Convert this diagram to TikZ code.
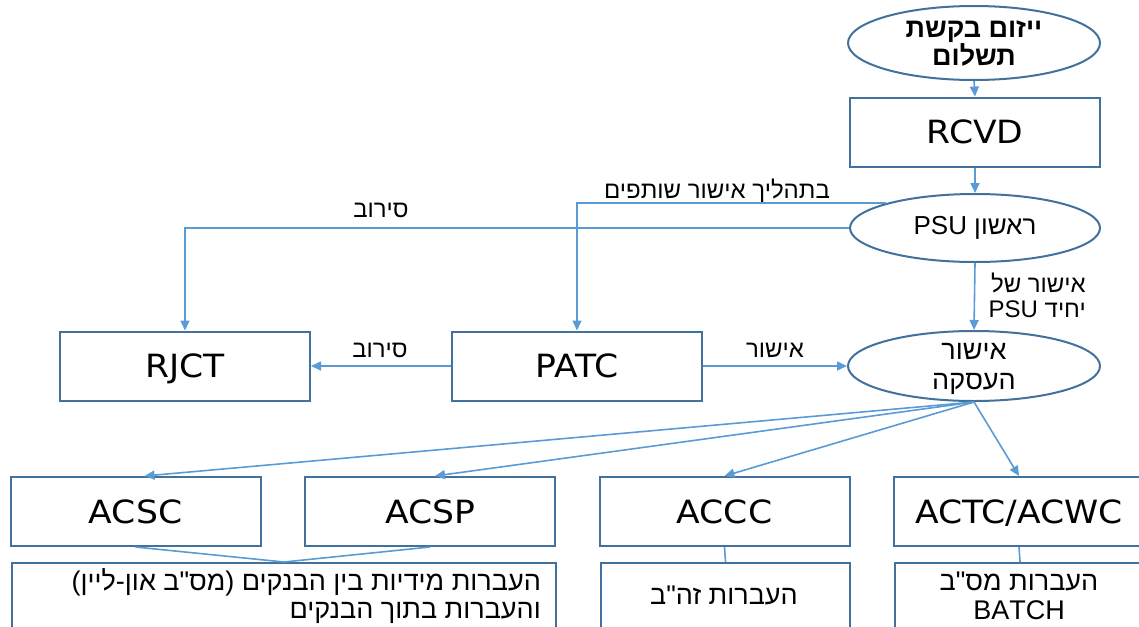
\documentclass[tikz,border=0pt]{standalone}
\usepackage{fontspec}
\setmainfont{DejaVu Sans}
\newfontfamily\latf[FakeStretch=1.08]{DejaVu Sans}
\newfontfamily\heb[Script=Hebrew]{Liberation Sans}
\TeXXeTstate=1
\usetikzlibrary{shapes.geometric,arrows.meta,calc}
\definecolor{boxc}{HTML}{41719C}
\definecolor{arrc}{HTML}{5B9BD5}
\tikzset{
 boxst/.style={draw=boxc, line width=2pt, rectangle, minimum width=250pt, minimum height=69pt, inner sep=0pt, text height=23pt, text depth=0pt, font=\latf\fontsize{32}{36}\selectfont},
 ellst/.style={draw=boxc, line width=2pt, ellipse, minimum width=252pt, minimum height=70pt, inner sep=0pt},
 arr/.style={draw=arrc, line width=1.6pt, -{Triangle[length=10pt,width=9pt]}},
 conn/.style={draw=arrc, line width=1.6pt},
 lbl/.style={font=\heb\fontsize{24}{26}\selectfont, inner sep=0pt},
 txt/.style={font=\heb\fontsize{27}{30}\selectfont, inner sep=0pt},
}
\begin{document}
\begin{tikzpicture}[x=1pt,y=-1pt]
\clip (0,0) rectangle (1139,626);
% top chain
\node[ellst, minimum height=74pt, text depth=0pt, font=\heb\bfseries\fontsize{27}{28}\selectfont, align=center] (init) at (974,43) {\beginR ייזום בקשת\endR\\\beginR תשלום\endR};
\node[boxst] (rcvd) at (975,132) {RCVD};
\node[ellst, minimum width=250pt, minimum height=68pt, font=\heb\fontsize{26}{28}\selectfont] (psu) at (975,228) {\beginR ראשון \beginL PSU\endL\endR};
\node[boxst] (rjct) at (185,366) {RJCT};
\node[boxst] (patc) at (577,366) {PATC};
\node[ellst, text depth=0pt, font=\heb\fontsize{27}{30}\selectfont, align=center] (appr) at (974,366) {\beginR אישור\endR\\\beginR העסקה\endR};
% bottom row
\node[boxst] (acsc) at (135.5,511.5) {ACSC};
\node[boxst] (acsp) at (430,511.5) {ACSP};
\node[boxst] (accc) at (724.5,511.5) {ACCC};
\node[boxst] (actc) at (1019,511.5) {ACTC/ACWC};
% detail boxes
\node[boxst, minimum width=544pt, minimum height=84pt, anchor=north west] (d1) at (11,562) {};
\node[boxst, minimum width=249pt, minimum height=84pt, anchor=north west] (d2) at (600,562) {};
\node[boxst, minimum width=250pt, minimum height=84pt, anchor=north west] (d3) at (894,562) {};
\node[txt, anchor=base east] (t1a) at (541,590) {\beginR העברות מידיות בין הבנקים (מס"ב און-ליין)\endR};
\node[txt, anchor=base east] (t1b) at (541,618) {\beginR והעברות בתוך הבנקים\endR};
\node[txt, anchor=base] (t2) at (724,604) {\beginR העברות זה"ב\endR};
\node[txt, anchor=base] (t3a) at (1019,590) {\beginR העברות מס"ב\endR};
\node[txt, anchor=base] (t3b) at (1019,619) {BATCH};
% labels
\node[lbl] (l1) at (717,191) {\beginR בתהליך אישור שותפים\endR};
\node[lbl] (l2) at (381,210) {\beginR סירוב\endR};
\node[lbl] (l3) at (380,350) {\beginR סירוב\endR};
\node[lbl] (l4) at (775,350) {\beginR אישור\endR};
\node[lbl, anchor=east] (l5) at (1086,283) {\beginR אישור של\endR};
\node[lbl, anchor=east] (l6) at (1086,309) {\beginR יחיד \beginL PSU\endL\endR};
% connectors
\draw[arr] (init.south) -- (rcvd.north);
\draw[arr] (rcvd.south) -- (psu.north);
\draw[arr] (psu.north west) -| (patc.north);
\draw[arr] (psu.west) -| (rjct.north);
\draw[arr] (psu.south) -- (appr.north);
\draw[arr] (patc.west) -- (rjct.east);
\draw[arr] (patc.east) -- (appr.west);
\draw[arr] (appr.south) -- ([xshift=9pt]acsc.north);
\draw[arr] (appr.south) -- ([xshift=5pt]acsp.north);
\draw[arr] (appr.south) -- (accc.north);
\draw[arr] (appr.south) -- (actc.north);
\draw[conn] (acsc.south) -- (d1.north);
\draw[conn] (acsp.south) -- (d1.north);
\draw[conn] (accc.south) -- (d2.north);
\draw[conn] (actc.south) -- (d3.north);
\end{tikzpicture}
\end{document}
